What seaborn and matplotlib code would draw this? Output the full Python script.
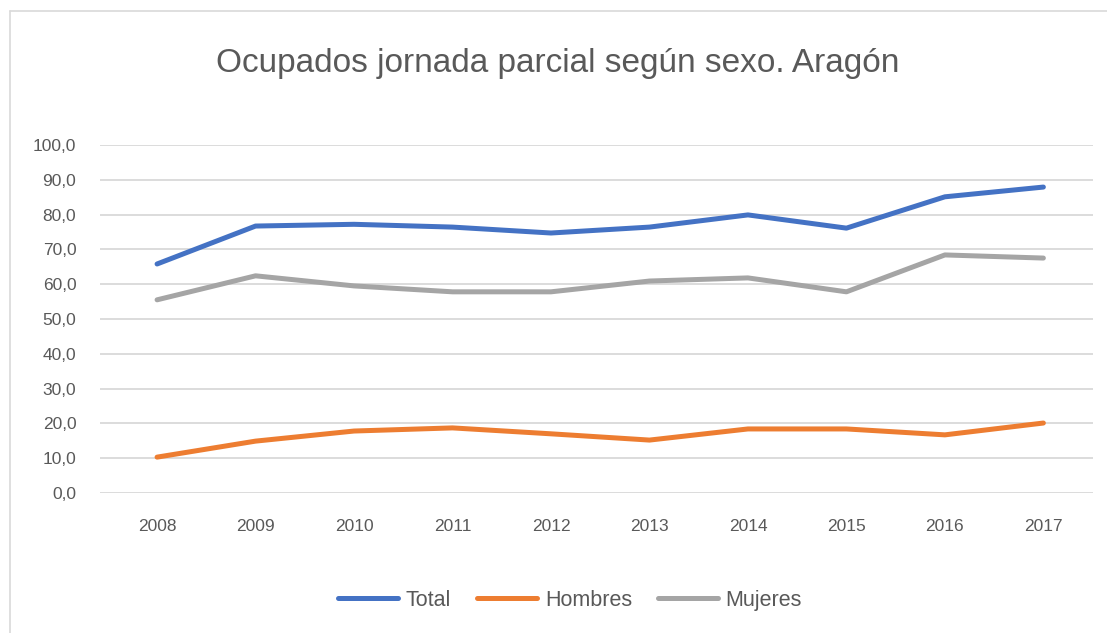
import matplotlib
matplotlib.use("Agg")
import matplotlib.pyplot as plt
import seaborn as sns
import pandas as pd
from matplotlib.ticker import FuncFormatter, MultipleLocator

years = ["2008", "2009", "2010", "2011", "2012", "2013", "2014", "2015", "2016", "2017"]
total = [65.8, 76.7, 77.2, 76.4, 74.7, 76.4, 79.9, 76.1, 85.1, 87.9]
hombres = [10.3, 14.9, 17.8, 18.7, 17.0, 15.2, 18.4, 18.4, 16.7, 20.1]
mujeres = [55.5, 62.4, 59.5, 57.8, 57.8, 60.9, 61.8, 57.8, 68.4, 67.5]
series = ["Total", "Hombres", "Mujeres"]
colors = ["#4472C4", "#ED7D31", "#A5A5A5"]

df = pd.DataFrame({"year": years * 3,
                   "valor": total + hombres + mujeres,
                   "serie": [s for s in series for _ in years]})
df["pos"] = df["year"].map({y: i for i, y in enumerate(years)})

sns.set_theme(style="white")
plt.rcParams["font.family"] = ["Liberation Sans", "DejaVu Sans"]
grey = "#595959"

fig = plt.figure(figsize=(11.07, 6.33), dpi=100)
ax = fig.add_axes([0.0903, 0.2212, 0.8967, 0.5498])

sns.lineplot(data=df, x="pos", y="valor", hue="serie", hue_order=series,
             palette=colors, linewidth=3.6, ax=ax, legend=False,
             solid_capstyle="round")

ax.set_xlim(-0.58, 9.5)
ax.set_ylim(0, 100)
ax.set_xticks(range(len(years)))
ax.set_xticklabels(years)
ax.yaxis.set_major_locator(MultipleLocator(10))
ax.yaxis.set_major_formatter(FuncFormatter(lambda v, p: f"{v:.1f}".replace(".", ",")))
ax.grid(axis="y", color="#D9D9D9", linewidth=1.3)
ax.set_axisbelow(True)
for s in ax.spines.values():
    s.set_visible(False)
ax.tick_params(axis="both", length=0, colors=grey, labelsize=12.5)
ax.tick_params(axis="x", pad=19)
ax.tick_params(axis="y", pad=17)
ax.set_xlabel("")
ax.set_ylabel("")

fig.text(0.504, 0.900, "Ocupados jornada parcial según sexo. Aragón",
         ha="center", va="center", fontsize=24, color=grey)

handles = [plt.Line2D([], [], color=c, linewidth=3.6) for c in colors]
fig.legend(handles, series, loc="center", bbox_to_anchor=(0.515, 0.052),
           ncol=3, frameon=False, fontsize=15.5, labelcolor=grey,
           handlelength=2.8, handletextpad=0.35, columnspacing=1.2)

# chart frame (top and left edges visible)
fig.add_artist(plt.Line2D([0.009, 1.0], [0.983, 0.983], color="#D9D9D9",
                          linewidth=1.2, transform=fig.transFigure))
fig.add_artist(plt.Line2D([0.009, 0.009], [0.0, 0.983], color="#D9D9D9",
                          linewidth=1.2, transform=fig.transFigure))

fig.savefig("out.png", dpi=100)
